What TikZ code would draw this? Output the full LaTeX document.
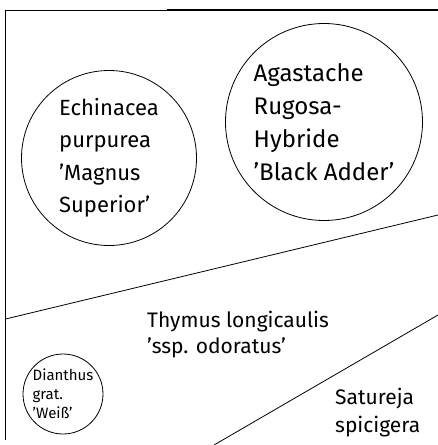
\documentclass[tikz,border=0pt]{standalone}
\usepackage{fontspec}
\setmainfont{Fira Sans}
\begin{document}
\begin{tikzpicture}[x=1pt,y=-1pt,
  bed/.style={draw=black,line width=0.8pt,circle,inner sep=0pt},
  edgeline/.style={draw=black,line width=0.8pt},
  plant/.style={align=left,inner sep=0pt,text=black},
  big/.style={plant,font=\fontsize{22}{32.5}\selectfont},
  bigger/.style={plant,font=\fontsize{24}{33}\selectfont},
  mid/.style={plant,font=\fontsize{21}{26}\selectfont},
  midb/.style={plant,font=\fontsize{21}{28}\selectfont},
  small/.style={plant,font=\fontsize{15}{19}\selectfont}]
\useasboundingbox (0,0) rectangle (438,445);
% frame
\coordinate (tl) at (5.5,10.5);
\coordinate (tr) at (438,10.5);
\coordinate (bl) at (5.5,440);
\coordinate (ts) at (167,9.8);
\coordinate (te) at (438,9.8);
\draw[edgeline] (bl) -- (tl) -- (tr);
\draw[black,line width=1.4pt] (ts) -- (te);
% dividing lines
\coordinate (l1a) at (5.5,319);
\coordinate (l1b) at (438,215);
\coordinate (l2a) at (214,445);
\coordinate (l2b) at (438,315);
\draw[edgeline] (l1a) -- (l1b);
\draw[edgeline] (l2a) -- (l2b);
% circles
\node[bed,minimum size=175] (echi) at (109,158) {};
\node[bed,minimum size=197] (agas) at (324,122) {};
\node[bed,minimum size=80] (dian) at (63,394) {};
% texts
\node[big] (techi) at (echi.center) {Echinacea\\purpurea\\'Magnus\\Superior'};
\node[bigger] (tagas) at (agas.center) {Agastache\\Rugosa-\\Hybride\\'Black Adder'};
\node[small] (tdian) at (dian.center) {Dianthus\\grat.\\'Weiß'};
\node[mid,anchor=base west] (thym) at (147,353) {Thymus longicaulis\\'ssp. odoratus'};
\node[midb,anchor=base west] (satu) at (335,432) {Satureja\\spicigera};
\end{tikzpicture}
\end{document}
